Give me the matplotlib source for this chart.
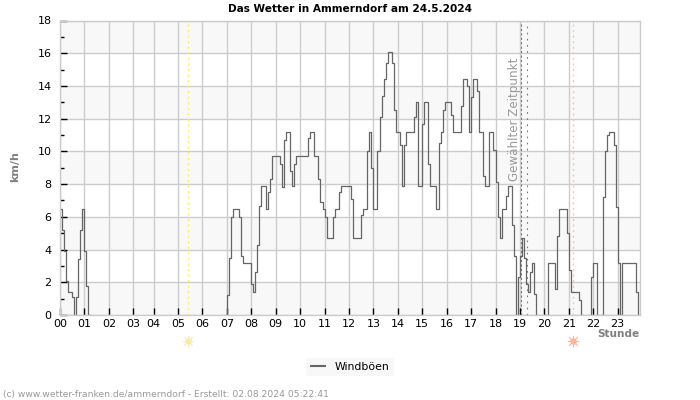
# -*- coding: utf-8 -*-
import numpy as np
import matplotlib
matplotlib.use('Agg')
import matplotlib.pyplot as plt
from matplotlib.transforms import blended_transform_factory

plt.rcParams['font.family'] = ['DejaVu Sans']

# Windboeen in km/h, ein Wert pro Messung (ca. 5 Minuten)
windboeen = [
    6.5, 5.2, 3.9, 2.1, 1.4, 1.4, 1.1, 0, 1.1, 3.4, 5.2, 6.5,
    3.9, 1.8, 0, 0, 0, 0, 0, 0, 0, 0, 0, 0,
    0, 0, 0, 0, 0, 0, 0, 0, 0, 0, 0, 0,
    0, 0, 0, 0, 0, 0, 0, 0, 0, 0,
    0, 0, 0, 0, 0, 0, 0, 0, 0, 0, 0, 0,
    0, 0, 0, 0, 0, 0, 0, 0, 0, 0, 0, 0,
    0, 0, 0, 0, 0, 0, 0, 0, 0, 0, 0, 0,
    1.2, 3.5, 6.0, 6.5, 6.5, 6.5, 6.0, 3.6, 3.2, 3.2, 3.2, 3.2,
    1.9, 1.4, 2.65, 4.3, 6.65, 7.9, 7.9, 6.5, 7.5, 8.3, 9.7, 9.7,
    9.7, 9.7, 9.2, 7.8, 10.7, 11.2, 11.2, 8.8, 7.9, 9.2, 9.7, 9.7,
    9.7, 9.7, 9.7, 9.7, 10.8, 11.2, 11.2, 9.7, 9.7, 8.3, 6.9, 6.5,
    6.0, 4.7, 4.7, 4.7, 6.0, 6.5, 6.5, 7.5, 7.9, 7.9, 7.9, 7.9,
    7.9, 7.1, 4.7, 4.7, 4.7, 4.7, 6.1, 6.5, 6.5, 10, 11.2, 9,
    6.5, 6.5, 10, 12.1, 13.4, 14.4, 15.4, 16.1, 16.1, 15.4, 12.5, 11.2,
    11.2, 10.4, 7.9, 10.4, 11.2, 11.2, 11.2, 11.2, 12.1, 13, 7.9, 7.9,
    11.7, 13, 13, 9.2, 7.9, 7.9, 7.9, 6.5, 10.5, 11.2, 12.5, 13,
    13, 13, 12.2, 11.2, 11.2, 11.2, 11.2, 12.8, 14.4, 14.4, 14, 11.2,
    13.3, 14.4, 14.4, 13.7, 11.2, 11.2, 8.5, 7.9, 7.9, 11.2, 11.2, 10.1,
    8.1, 6, 4.7, 6.5, 6.5, 7.3, 7.9, 7.9, 5.5, 3.6, 0, 2.3,
    3.6, 4.7, 3.5, 1.9, 1.4, 2.65, 3.2, 1.3, 0, 0, 0, 0,
    0, 0, 3.2, 3.2, 3.2, 1.6, 4.8, 6.5, 6.5, 6.5, 6.5, 5,
    2.75, 1.4, 1.4, 1.4, 1.4, 0.9, 0, 0, 0, 0, 0, 2.3,
    3.2, 3.2, 0, 0, 0, 7.2, 10, 11, 11.2, 11.2, 10.4, 6.6,
    3.2, 0, 3.2, 3.2, 3.2, 3.2, 3.2, 3.2, 3.2, 1.4, 0,
]
stunden_pos = [0, 12, 24, 36, 46, 58, 70, 82, 94, 106, 118, 130,
               142, 154, 166, 178, 190, 202, 214, 226, 238, 250, 262, 274]
stunden = ['%02d' % h for h in range(24)]
aufgang = 62.9
untergang = 252
zeitpunkt = [226.3, 229.3]

BREITE, HOEHE = 700, 400
grid_farbe = '#cccccc'
band_farbe = '#f8f8f8'
grau = '#808080'

fig = plt.figure(figsize=(7, 4), dpi=100)
ax = fig.add_axes([60 / BREITE, 1 - 315 / HOEHE, 580 / BREITE, 294.5 / HOEHE])

# abwechselnde Baender
for y in range(0, 18, 4):
    ax.axhspan(y, y + 2, color=band_farbe, lw=0, zorder=0)

ax.set_xlim(0, 285)
ax.set_ylim(0, 18)
ax.set_xticks(stunden_pos)
ax.set_xticklabels(stunden)
ax.set_yticks(range(0, 19, 2))
ax.set_yticks(range(1, 18, 2), minor=True)
ax.grid(True, which='major', color=grid_farbe, lw=1, zorder=1)
ax.set_axisbelow(True)
ax.tick_params(axis='x', direction='in', length=5, width=1, color='black',
               labelsize=8, pad=3)
ax.tick_params(axis='y', which='major', direction='in', length=5, width=1,
               color='black', labelsize=8, pad=6)
ax.tick_params(axis='y', which='minor', direction='in', length=3, width=1,
               color='black')
for s in ax.spines.values():
    s.set_color(grid_farbe)
    s.set_linewidth(1)
    s.set_zorder(4)

# senkrechte Marken
ax.axvline(aufgang, color='#ffee55', lw=1, ls=(0, (1.5, 2.5)), zorder=2)
ax.axvline(untergang, color='#f5c9a0', lw=1, ls=(0, (1.5, 2.5)), zorder=2)
ax.axvline(zeitpunkt[0], color='#777777', lw=0.8, ls=(0, (2, 2)), zorder=2)
ax.axvline(zeitpunkt[1], color='#777777', lw=0.8, ls=(0, (1.5, 4)), zorder=2)

# Nullwerte mitten in einer Luecke nicht zeichnen
x = np.arange(len(windboeen))
werte = np.array(windboeen, dtype=float)
vor = np.r_[0, werte[:-1]]
nach = np.r_[werte[1:], 0]
werte[(werte == 0) & (vor == 0) & (nach == 0)] = np.nan
ax.plot(x, werte, color='#666666', lw=0.9, drawstyle='steps-post',
        label='Windböen', zorder=3)

ax.text(223.5, 8.2, 'Gewählter Zeitpunkt', rotation=90, ha='center', va='bottom',
        color='#999999', fontsize=8.6)

# Sonnensymbole unter der Achse
trans = blended_transform_factory(ax.transData, fig.transFigure)
for pos, farbe in [(aufgang, '#ffe9a8'), (untergang, '#ffb39c')]:
    ax.scatter([pos], [1 - 341 / HOEHE], s=22, color=farbe, marker='o', lw=0,
               transform=trans, clip_on=False, zorder=5)
    ax.scatter([pos], [1 - 341 / HOEHE], s=60, color=farbe, marker=(8, 2, 0), lw=0.6,
               transform=trans, clip_on=False, zorder=5)

fig.text(350 / BREITE, 1 - 8.5 / HOEHE, 'Das Wetter in Ammerndorf am 24.5.2024',
         ha='center', va='center', fontsize=7.6, fontweight='bold', color='black')
fig.text(15 / BREITE, 1 - 167 / HOEHE, 'km/h', rotation=90, ha='center', va='center',
         fontsize=8, fontweight='bold', color=grau)
fig.text(640 / BREITE, 1 - 334 / HOEHE, 'Stunde', ha='right', va='center',
         fontsize=7.6, fontweight='bold', color=grau)
fig.text(3 / BREITE, 1 - 394 / HOEHE,
         '(c) www.wetter-franken.de/ammerndorf - Erstellt: 02.08.2024 05:22:41',
         ha='left', va='center', fontsize=6.6, color='#999999')

leg = ax.legend(loc='center', bbox_to_anchor=(350 / BREITE, 1 - 367 / HOEHE),
                bbox_transform=fig.transFigure, frameon=True, fancybox=False,
                facecolor=band_farbe, edgecolor='none', framealpha=1, fontsize=7.8,
                handlelength=1.3, handletextpad=0.9, borderpad=0.4, borderaxespad=0)
leg.get_lines()[0].set_linewidth(1.5)

fig.savefig('out.png', dpi=100)
